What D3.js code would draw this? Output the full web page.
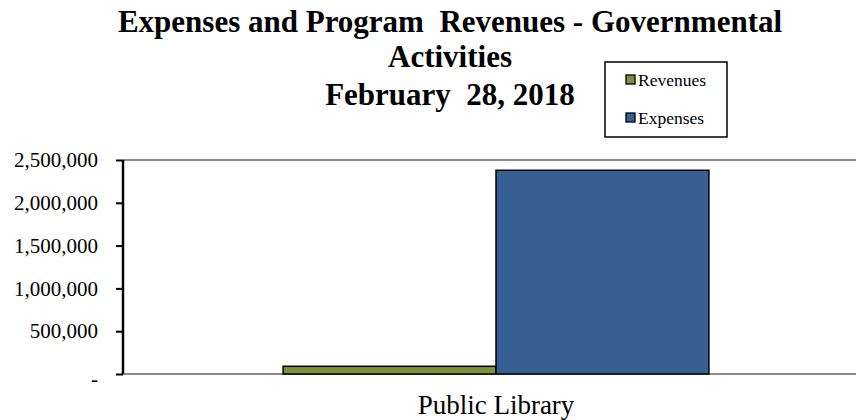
<!DOCTYPE html>
<html>
<head>
<meta charset="utf-8">
<script src="https://cdn.jsdelivr.net/npm/d3@7"></script>
<style>
  html, body { margin: 0; padding: 0; background: #fff; }
  svg { display: block; font-family: 'Liberation Serif', 'Times New Roman', serif; }
</style>
</head>
<body>
<div id="chart"></div>
<script>
// chart data
const categories = ['Public Library'];
const seriesNames = ['Revenues', 'Expenses'];
const revenues = [90000];
const expenses = [2380000];
const yTicks = [0, 500000, 1000000, 1500000, 2000000, 2500000];
const titleLines = ['Expenses and Program  Revenues - Governmental', 'Activities', 'February  28, 2018'];

const colors = d3.scaleOrdinal()
  .domain(seriesNames)
  .range(['#77933c', '#376092']);

// svg size and margins
const width = 856;
const height = 420;
const margin = {top: 160, right: -13, bottom: 46, left: 123};
const innerW = width - margin.left - margin.right;
const innerH = height - margin.top - margin.bottom;

const svg = d3.select('#chart').append('svg')
  .attr('width', width)
  .attr('height', height);

// title
svg.append('g')
  .attr('font-weight', 'bold')
  .attr('font-size', 31)
  .attr('text-anchor', 'middle')
  .selectAll('text')
  .data(titleLines)
  .enter().append('text')
  .attr('x', 450)
  .attr('y', (d, i) => [32, 67, 105][i])
  .style('white-space', 'pre')
  .text(d => d);

const g = svg.append('g').attr('transform', 'translate(' + margin.left + ',' + margin.top + ')');

// scales
const x0 = d3.scaleBand().domain(categories).range([0, innerW]).paddingInner(0).paddingOuter(0.376);
const x1 = d3.scaleBand().domain(seriesNames).range([0, x0.bandwidth()]);
const y = d3.scaleLinear().domain([0, 2500000]).range([innerH, 0]);

// top border and baseline
g.append('line')
  .attr('x1', 0).attr('x2', width - margin.left)
  .attr('y1', y(2500000)).attr('y2', y(2500000))
  .attr('stroke', '#8c8c8c').attr('stroke-width', 2);
g.append('line')
  .attr('x1', 0).attr('x2', width - margin.left)
  .attr('y1', y(0)).attr('y2', y(0))
  .attr('stroke', '#8c8c8c').attr('stroke-width', 2);

// bars
const rows = categories.map((c, i) => ({cat: c, Revenues: revenues[i], Expenses: expenses[i]}));
g.append('g')
  .selectAll('g')
  .data(rows)
  .enter().append('g')
  .attr('transform', d => 'translate(' + x0(d.cat) + ',0)')
  .selectAll('rect')
  .data(d => seriesNames.map(k => ({key: k, value: d[k]})))
  .enter().append('rect')
  .attr('x', d => x1(d.key))
  .attr('y', d => y(d.value))
  .attr('width', x1.bandwidth())
  .attr('height', d => y(0) - y(d.value))
  .attr('fill', d => colors(d.key))
  .attr('stroke', '#000')
  .attr('stroke-width', 1.5);

// y axis
const yAxis = g.append('g')
  .call(d3.axisLeft(y)
    .tickValues(yTicks)
    .tickSize(7)
    .tickPadding(18)
    .tickFormat(d => d === 0 ? '-' : d3.format(',')(d)));
yAxis.select('.domain').attr('stroke', '#000').attr('stroke-width', 2.5).attr('d', 'M0,' + y(2500000) + 'V' + y(0));
yAxis.selectAll('.tick line').attr('stroke', '#000').attr('stroke-width', 2);
yAxis.selectAll('.tick text')
  .attr('font-family', "'Liberation Serif', 'Times New Roman', serif")
  .attr('font-size', 21)
  .attr('fill', '#000')
  .attr('dy', d => d === 0 ? '0.55em' : '0.32em');

// category label
g.selectAll('text.cat')
  .data(categories)
  .enter().append('text')
  .attr('class', 'cat')
  .attr('x', d => x0(d) + x0.bandwidth() / 2)
  .attr('y', innerH + 40)
  .attr('text-anchor', 'middle')
  .attr('font-size', 27)
  .text(d => d);

// legend
const legend = svg.append('g').attr('transform', 'translate(605,62)');
legend.append('rect')
  .attr('width', 122).attr('height', 75)
  .attr('fill', '#fff').attr('stroke', '#000').attr('stroke-width', 1.5);
const items = legend.selectAll('g')
  .data(seriesNames)
  .enter().append('g')
  .attr('transform', (d, i) => 'translate(21,' + (13 + i * 38) + ')');
items.append('rect')
  .attr('width', 9).attr('height', 9)
  .attr('fill', colors)
  .attr('stroke', '#000').attr('stroke-width', 1.3);
items.append('text')
  .attr('x', 12)
  .attr('y', 5)
  .attr('dy', '0.35em')
  .attr('font-size', 17.5)
  .text(d => d);
</script>
</body>
</html>
